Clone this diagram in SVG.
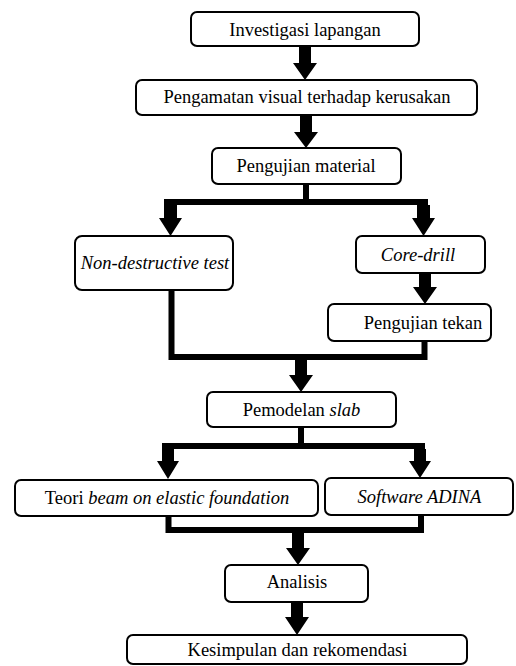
<svg xmlns="http://www.w3.org/2000/svg" width="516" height="666" viewBox="0 0 516 666">
<style>
.box{fill:#fff;stroke:#000;stroke-width:2}
text{font-family:'Liberation Serif','Times New Roman',Times,'DejaVu Serif',serif;font-size:18.5px;fill:#000;text-anchor:middle}
.i{font-style:italic}
.bar{fill:none;stroke:#000;stroke-width:6;stroke-linejoin:miter;stroke-linecap:square}
.arr{fill:#000;stroke:none}
</style>
<rect width="516" height="666" fill="#fff"/>
<g id="connectors">
<polygon class="arr" points="299,46 311,46 311,63 317,63 305,80 293,63 299,63"/>
<polygon class="arr" points="300,115 312,115 312,132 318,132 306,148 294,132 300,132"/>
<polyline class="bar" points="306,184 306,202"/>
<polyline class="bar" points="167,202 425,202"/>
<polygon class="arr" points="164,205 177,205 177,218 182,218 170.5,236 159,218 164,218"/>
<polygon class="arr" points="417,205 430,205 430,218 435,218 423.5,236 412,218 417,218"/>
<polygon class="arr" points="419,273 431,273 431,287 437,287 425,304 413,287 419,287"/>
<polyline class="bar" points="171.5,290 171.5,357 424.5,357 424.5,341"/>
<polygon class="arr" points="295,360 307,360 307,375 313,375 301,392 289,375 295,375"/>
<polyline class="bar" points="301,427 301,446"/>
<polyline class="bar" points="165,446 422,446"/>
<polygon class="arr" points="162,449 174,449 174,461 179,461 168,479 157,461 162,461"/>
<polygon class="arr" points="414,449 426,449 426,461 431,461 420,478 409,461 414,461"/>
<polyline class="bar" points="168.5,516 168.5,530 421,530 421,515"/>
<polygon class="arr" points="292,533 304,533 304,548 310,548 298,565 286,548 292,548"/>
<polygon class="arr" points="291,602 303,602 303,617 309,617 297,635 285,617 291,617"/>
</g>
<g id="n1"><rect class="box" x="191" y="12" width="228" height="34" rx="6"/><text font-family="Liberation Serif" x="305" y="36">Investigasi lapangan</text></g>
<g id="n2"><rect class="box" x="136" y="80" width="341" height="35" rx="6"/><text font-family="Liberation Serif" x="307" y="103">Pengamatan visual terhadap kerusakan</text></g>
<g id="n3"><rect class="box" x="212" y="148" width="189" height="36" rx="6"/><text font-family="Liberation Serif" x="306" y="172">Pengujian material</text></g>
<g id="n4"><rect class="box" x="75" y="236" width="158" height="54" rx="7"/><text font-family="Liberation Serif" class="i" x="155" y="269">Non-destructive test</text></g>
<g id="n5"><rect class="box" x="356" y="236" width="129" height="37" rx="6"/><text font-family="Liberation Serif" class="i" x="418" y="261">Core-drill</text></g>
<g id="n6"><rect class="box" x="328" y="304" width="163" height="37" rx="6"/><text font-family="Liberation Serif" x="423" y="329">Pengujian tekan</text></g>
<g id="n7"><rect class="box" x="207" y="392" width="189" height="35" rx="6"/><text font-family="Liberation Serif" x="301.5" y="416">Pemodelan <tspan class="i">slab</tspan></text></g>
<g id="n8"><rect class="box" x="15" y="480" width="303" height="36" rx="6"/><text font-family="Liberation Serif" x="167" y="504">Teori <tspan class="i">beam on elastic foundation</tspan></text></g>
<g id="n9"><rect class="box" x="325" y="478" width="188" height="37" rx="6"/><text font-family="Liberation Serif" class="i" x="419.5" y="503">Software ADINA</text></g>
<g id="n10"><rect class="box" x="225" y="565" width="143" height="37" rx="6"/><text font-family="Liberation Serif" x="297" y="588">Analisis</text></g>
<g id="n11"><rect class="box" x="127" y="635" width="340" height="29" rx="6"/><text font-family="Liberation Serif" x="297.5" y="656">Kesimpulan dan rekomendasi</text></g>
</svg>
